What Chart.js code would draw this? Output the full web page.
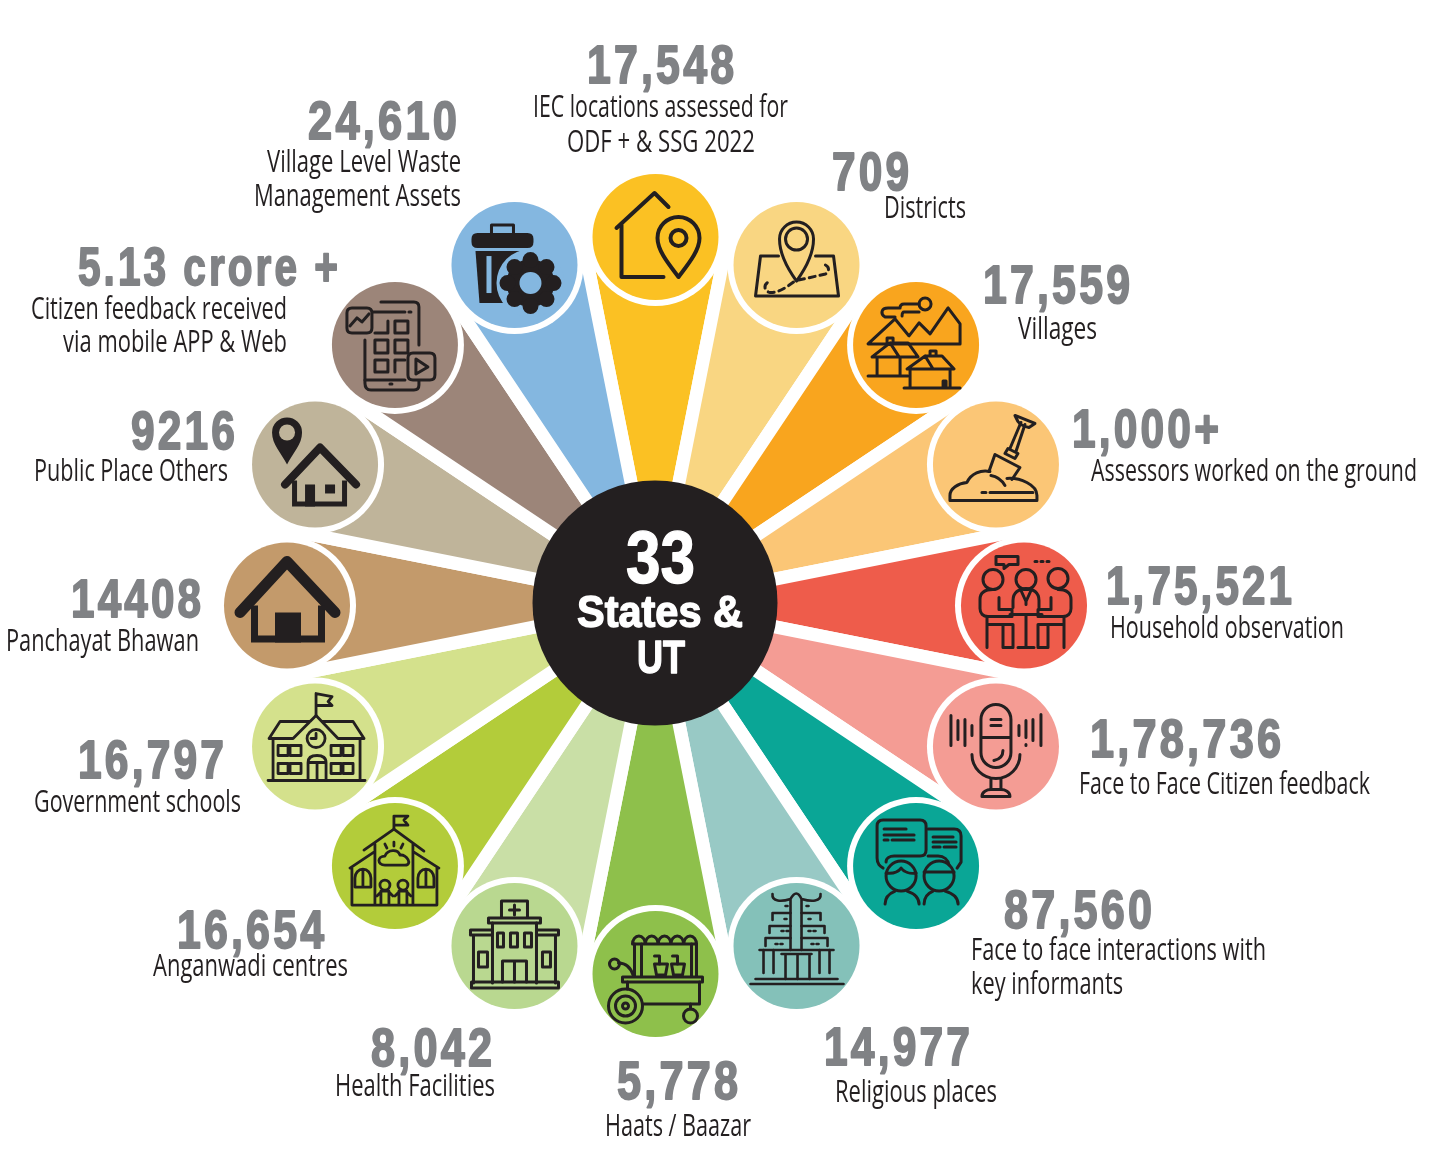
<!DOCTYPE html>
<html>
<head>
<meta charset="utf-8">
<title>33 States & UT</title>
<script src="https://cdn.jsdelivr.net/npm/chart.js@4/dist/chart.umd.min.js"></script>
<style>
  html, body { margin: 0; padding: 0; background: #fff; }
  canvas { display: block; }
</style>
</head>
<body>
<canvas id="petals" width="1448" height="1174"></canvas>
<script>
// chart content, clockwise from the top petal
const categories = ["IEC locations", "Districts", "Villages", "Assessors", "Household observation",
  "Citizen feedback", "Key informants", "Religious places", "Haats / Baazar", "Health Facilities",
  "Anganwadi centres", "Government schools", "Panchayat Bhawan", "Public Place Others",
  "Mobile feedback", "Waste Management Assets"];
const valueLabels = ["17,548", "709", "17,559", "1,000+", "1,75,521", "1,78,736", "87,560", "14,977",
  "5,778", "8,042", "16,654", "16,797", "14408", "9216", "5.13 crore +", "24,610"];
const captions = [
  ["IEC locations assessed for", "ODF + & SSG 2022"],
  ["Districts"],
  ["Villages"],
  ["Assessors worked on the ground"],
  ["Household observation"],
  ["Face to Face Citizen feedback"],
  ["Face to face interactions with", "key informants"],
  ["Religious places"],
  ["Haats / Baazar"],
  ["Health Facilities"],
  ["Anganwadi centres"],
  ["Government schools"],
  ["Panchayat Bhawan"],
  ["Public Place Others"],
  ["Citizen feedback received", "via mobile APP & Web"],
  ["Village Level Waste", "Management Assets"]
];
// every petal is the same size in the picture
const petalShares = [1, 1, 1, 1, 1, 1, 1, 1, 1, 1, 1, 1, 1, 1, 1, 1];
const petalColors = ["#FBC123", "#F9D682", "#F9A51E", "#FBC676", "#EE5C4B", "#F49C94", "#0AA696", "#98C9C5",
  "#8EC04B", "#C9DFA6", "#B3CC3A", "#D4E18C", "#C39A6B", "#BFB49A", "#9C8579", "#84B7E0"];
const discColors = ["#FBC123", "#F9D682", "#F9A51E", "#FBC676", "#EE5C4B", "#F49C94", "#0AA696", "#84C1B9",
  "#8EC04B", "#B9D890", "#B3CC3A", "#D4E18C", "#C39A6B", "#BFB49A", "#9C8579", "#84B7E0"];
const hubLines = ["33", "States &", "UT"];

// text layout: [left, right, baseline]
const valueBoxes = [[587, 734, 83], [832, 909, 190], [983, 1130, 303], [1072, 1219, 447], [1106, 1292, 604],
  [1090, 1281, 757], [1004, 1152, 928], [824, 970, 1065], [617, 738, 1099], [371, 492, 1066], [177, 324, 948],
  [78, 224, 778], [71, 201, 617], [131, 235, 449], [78, 338, 285], [308, 457, 139]];
const captionBoxes = [
  [[533, 788, 117], [567, 755, 152]],
  [[884, 966, 218]],
  [[1018, 1097, 339]],
  [[1091, 1417, 481]],
  [[1110, 1344, 638]],
  [[1079, 1370, 794]],
  [[971, 1266, 960], [971, 1123, 994]],
  [[835, 997, 1102]],
  [[605, 751, 1136]],
  [[335, 495, 1096]],
  [[153, 348, 976]],
  [[34, 241, 812]],
  [[6, 199, 651]],
  [[34, 228, 481]],
  [[31, 287, 319], [63, 287, 352]],
  [[267, 461, 172], [254, 461, 206]]
];
const hubBoxes = [[626, 695, 583, 74], [577, 743, 627, 44], [637, 685, 673, 46]];

const INK = "#231F20";
const DISC_DISTANCE = 368.5;
const DISC_OFFSET_Y = 2.5;

function circ(x, y, r) {
  return "M" + (x + r) + " " + y + "A" + r + " " + r + " 0 1 1 " + (x - r) + " " + y +
    "A" + r + " " + r + " 0 1 1 " + (x + r) + " " + y + "Z";
}
function box(x, y, w, h) {
  return "M" + x + " " + y + "h" + w + "v" + h + "h" + (-w) + "Z";
}

// icon drawings, relative to the disc centre. F = fill, B = fill in disc colour, D = dashed
const iconWidths = [4, 3, 3, 3, 3, 3, 3, 2.6, 3, 3, 2.8, 2.8, 11, 8, 3, 3];
const iconPaths = [
  ["M-34-12V40H8M-39-9L-1-44L13-30", "M23 40C14 28 2 14 2 1A21 21 0 0 1 44 1C44 14 32 28 23 40Z", circ(23, 1, 8)],
  ["M-18-9H-36L-41 31H42L37-9H19", "M0 16C-8 5-17-10-17-26A17 17 0 0 1 17-26C17-10 8 5 0 16Z", circ(0, -26, 11),
    "D M2 15L29 9C34 6 33-1 24-1", "D M-3 17C-12 24-22 29-28 27C-34 24-32 17-25 16"],
  ["M-21-26L-48-1H44V-21L32-37L14-11L3-22L-7-9L-21-26", circ(9, -41, 6),
    "M3-41H-12Q-16-41-16-37H-28C-35-37-36-31-31-28H-21M3-33H-12Q-14-33-14-29",
    "M-44 12L-26-2H-8L2 12H-44M-26-2L-17 12M-39 12V31M-16 12V31M-48 31H-8M-29-2V-7H-23V-2",
    "M-9 24L9 11H26L38 24H-9M9 11L17 24M-6 24V43M34 24V43M-12 43H44M14 11V6H20V11M27 43V36H30V43"],
  ["M11 14C24 13 41 20 41 31V36H-46V31C-46 24-38 19-29 18C-25 9-15 5-6 7", "M-14 28H-10M-6 28H37M-5 11C2 12 6 16 9 21",
    "M-7 7L-1-10L24 3L16 15", "M9-11L19-6L22-11L12-16Z", "M14-16L25-42M20-13L29-40", "M19-49L39-41L33-37C28-38 24-40 22-43Z"],
  [circ(-31, -26, 10), circ(2, -26, 10), circ(34, -27, 10),
    "M-31-16C-40-16-44-12-44-6V3C-44 8-41 11-36 11H-12V4H-25V-8",
    "M-37 11V42M-37 19H-11V42H-21V19",
    "M-11 2V-5C-11-13-5-17 2-17C9-17 15-13 15-5V2", "M-3-15L2-4L7-15M2-4V-1", "M-14 9H18M2 9V42M-6 42H10",
    "M34-16C44-16 47-12 47-6V3C47 8 44 11 39 11H14V4H27V-8", "M40 11V42M40 19H14V42H24V19",
    "M-28-49H-6V-41H-15L-20-37V-41H-28Z", "M11-44H13M17-44H19M23-44H25"],
  ["M-15-9V-27A15 15 0 0 1 15-27V6A15 15 0 0 1-15 6V-9H15", "M-24 8A24 24 0 0 0 24 8", "M-5 32V43M5 32V43",
    "M-14 50C-14 45-9 43-5 43H5C9 43 14 45 14 50Z", "M-5-27H5M-5-21H5", "M-2 14C3 13 7 10 7 4",
    "M-45-31V-1M-38-26V-7M-31-27V-1M-24-21V-11M23-21V-11M30-26V-9M37-27V-6M45-32V-1M30-2V-1"],
  ["M-33 2C-36 0-39-2-39-8V-40Q-39-46-33-46H4Q10-46 10-40V-16Q10-10 4-10H-22C-26-10-30-8-30-4",
    "M12-37H38Q45-37 45-30V-4L41 2M12-10H22C28-10 32-6 33-1",
    "M-32-37H-10M-32-31H-2M-32-26H-28M-24-26H-2M17-29H37M17-24H40M17-19H24M28-19H40",
    circ(-15, 10, 15), "M-30 7C-22 8-18 6-15 2C-12 6-6 8 0 7", circ(23, 10, 15), "M8 6H38",
    "M-31 38C-31 30-26 27-21 25M3 38C3 30-3 27-9 25M8 38C8 30 12 27 17 25M42 38C42 30 36 27 29 25"],
  ["M-46 38H47M-41 33H41", "M-33 4V27M-23 4V27M23 4V27M33 4V27", "M-37 4H37",
    "M-31 0V-8H-6M5-8H31V0M-27-13V-20H-6M5-20H28V-13M-24-26V-33H-6M5-33H24V-26",
    "M-6-47V4M5-47V4M-6-47Q0-58 5-47M-24-52C-25-44-15-44-6-47M24-52C25-44 15-44 5-47",
    "M-15 8H15M-11 8V33M13 8V33M1 8V33",
    "M-21-2H-19M-16-2H-14M15-2H17M20-2H22M-15-15H-13M-10-15H-8M12-15H14M17-15H19M-12-27H-10M12-27H14M-11-40H-9M10-40H12"],
  ["M-23-30A6.4 8 0 0 1-10.2-30A6.4 8 0 0 1 2.6-30A6.4 8 0 0 1 15.4-30A6.4 8 0 0 1 28.2-30A6.4 8 0 0 1 41-30H-23",
    "M-21-30V2M-14-30V2M36-30V2M41-30V2", "M-33 3H47V8H-33Z", "M-28 8V15M44 8V30H-12",
    circ(-30, 32, 17), circ(-30, 32, 10), circ(-30, 32, 3), circ(35, 42, 7), "M35 30V35",
    "M-1-10H12L10 1H1ZM16-10H29L27 1H18Z", "M4-10V-18H-1M22-10V-18H17",
    "M-22 2C-25-8-30-11-37-11", circ(-41, -10, 5)],
  ["M-13-29V-45H13V-29", "M-5-36H5M0-41V-31", "M-26-28H26V-23H-26Z", "M-22-23V37M22-23V37",
    box(-17, -13, 6, 14), box(-4, -13, 7, 14), box(10, -13, 7, 14), "M-12 36V15H12V36M0 15V36",
    "M-44-16H-22V-11H-44ZM-41-11V37M22-16H44V-11H22ZM41-11V37",
    box(-36, 6, 9, 15), box(28, 6, 8, 15), box(-43, 36, 87, 6)],
  ["M-1-37V-50H13L9-46L13-41H-1", "M-31-16L-1-37L29-15M-20-22V39M18-22V39M-45 2L-21-14M44 2L19-14M-43 2V39H42V2",
    "M-40 21V12A8 9 0 0 1-24 12V21ZM-32 3V21", "M23 21V12A8 9 0 0 1 39 12V21ZM31 3V21",
    "M-10-1C-18-1-18-10-10-10C-7-17 3-17 5-11C12-12 18-1 10-1Z", "M-10-22L-8-18M-1-24V-20M8-22L6-18",
    circ(-10, 19, 5), circ(8, 19, 5), "M-14 38V25H-6V38M-18 30L-14 26M-2 30L-6 26M4 38V25H12V38M0 30L4 26M16 30L12 26"],
  ["M1-31V-53L17-50L13-45L17-41L1-41", "M-46-8L-35-25H-5M7-25H38L49-8M-46-8H-22L1-31L23-8H49M-42-8V34M45-8V34M-47 34H50",
    circ(1, -8, 9), "M1-13V-8H-4", "M-7 34V16C-7 11-4 9 2 9C8 9 11 11 11 16V34M2 16V34M-7 16H11",
    box(-37, -1, 10, 10), box(-25, -1, 11, 10), box(-37, 17, 10, 10), box(-25, 17, 11, 10),
    box(16, -1, 10, 10), box(28, -1, 10, 10), box(16, 17, 10, 10), box(28, 17, 10, 10)],
  ["M-47 7L0-44L48 7", "F M-36 0H-29V30H31V0H38V37H-36Z", "F " + box(-12, 7, 26, 30)],
  ["M-30 20L5-17L41 20", "F M-23 16H-18V37H27V16H32V42H-23Z", "F " + box(-10, 20, 10, 22), "F " + box(10, 20, 10, 9),
    "F M-28 0C-34-12-43-20-43-32A15 15 0 0 1-13-32C-13-20-22-12-28 0Z", "B " + circ(-28, -32, 8)],
  ["M-14-43H19Q24-43 24-38V0", "M-30-5V38Q-30 45-24 45H19Q24 45 24 40V36", "M-30 35H10", "M-22-33H10", "M14-33H16", "M-5 39H-3",
    "M-43-37H-28Q-23-37-23-32V-17Q-23-12-28-12H-43Q-48-12-48-17V-32Q-48-37-43-37Z", "M-45-19L-38-27L-33-23L-26-31",
    box(0, -24, 13, 12), box(-20, -5, 13, 13), box(0, -5, 13, 13), box(-20, 15, 13, 12), "M-20-12H-7V-24", "M0 27V15H10",
    "M18 8H35Q40 8 40 13V30Q40 35 35 35H18Q13 35 13 30V13Q13 8 18 8Z", "M21 14L33 22L21 29Z"],
  ["F M-43-26Q-43-32-37-32H13Q19-32 19-26V-23Q19-17 13-17H-37Q-43-17-43-23Z", "M-23-32V-40H-1V-32",
    "F M-39-14H5L-2 38H-35Z", "B " + box(-28, -9, 5, 37), "B " + circ(16, 18, 34), "F " + circ(16, 18, 24),
    "F " + circ(39, 18, 8), "F " + circ(32, 34, 8), "F " + circ(16, 41, 8), "F " + circ(0, 34, 8),
    "F " + circ(-7, 18, 8), "F " + circ(0, 2, 8), "F " + circ(16, -5, 8), "F " + circ(32, 2, 8),
    "B " + circ(16, 18, 11)]
];

function fitText(ctx, text, left, right, baseline, font, heavy, spacing) {
  const gap = spacing || 0;
  ctx.save();
  ctx.font = font;
  ctx.letterSpacing = gap + "px";
  // the last letter's spacing is not part of the visible width
  const natural = ctx.measureText(text).width - gap;
  ctx.translate(left, baseline);
  ctx.scale((right - left) / natural, 1);
  ctx.textAlign = "left";
  ctx.textBaseline = "alphabetic";
  ctx.fillText(text, 0, 0);
  if (heavy) {
    ctx.lineWidth = heavy;
    ctx.lineJoin = "round";
    ctx.strokeStyle = ctx.fillStyle;
    ctx.strokeText(text, 0, 0);
  }
  ctx.restore();
}

function drawIcon(ctx, index, color) {
  ctx.lineWidth = iconWidths[index];
  ctx.lineCap = "round";
  ctx.lineJoin = "round";
  ctx.strokeStyle = INK;
  iconPaths[index].forEach(function (item) {
    const kind = item.slice(0, 2);
    if (kind === "F " || kind === "B ") {
      ctx.fillStyle = kind === "F " ? INK : color;
      ctx.fill(new Path2D(item.slice(2)));
    } else if (kind === "D ") {
      ctx.setLineDash([6, 5]);
      ctx.stroke(new Path2D(item.slice(2)));
      ctx.setLineDash([]);
    } else {
      ctx.stroke(new Path2D(item));
    }
  });
}

const decorations = {
  id: "decorations",
  afterDatasetsDraw: function (chart) {
    const ctx = chart.ctx;
    const arcs = chart.getDatasetMeta(0).data;
    const cx = arcs[0].x;
    const cy = arcs[0].y;

    arcs.forEach(function (arc, i) {
      const mid = (arc.startAngle + arc.endAngle) / 2;
      const x = cx + 0.5 + Math.cos(mid) * DISC_DISTANCE;
      const y = cy + DISC_OFFSET_Y + Math.sin(mid) * DISC_DISTANCE;
      ctx.save();
      ctx.fillStyle = "#fff";
      ctx.beginPath();
      ctx.arc(x, y, 69, 0, Math.PI * 2);
      ctx.fill();
      ctx.fillStyle = discColors[i];
      ctx.beginPath();
      ctx.arc(x, y, 63, 0, Math.PI * 2);
      ctx.fill();
      ctx.translate(x, y);
      drawIcon(ctx, i, discColors[i]);
      ctx.restore();
    });

    // centre hub
    ctx.save();
    ctx.fillStyle = INK;
    ctx.beginPath();
    ctx.arc(cx, cy, 122.5, 0, Math.PI * 2);
    ctx.fill();
    ctx.fillStyle = "#fff";
    hubLines.forEach(function (line, i) {
      const b = hubBoxes[i];
      fitText(ctx, line, b[0], b[1], b[2], "bold " + b[3] + "px 'Liberation Sans'", 1.4);
    });
    ctx.restore();

    // values and captions
    ctx.save();
    ctx.fillStyle = "#808285";
    valueLabels.forEach(function (label, i) {
      const b = valueBoxes[i];
      fitText(ctx, label, b[0], b[1], b[2], "bold 54px 'Liberation Sans'", 1.8, 4);
    });
    ctx.fillStyle = INK;
    captions.forEach(function (lines, i) {
      lines.forEach(function (line, j) {
        const b = captionBoxes[i][j];
        fitText(ctx, line, b[0], b[1], b[2], "31px 'Open Sans'");
      });
    });
    ctx.restore();
  }
};

new Chart(document.getElementById("petals").getContext("2d"), {
  type: "pie",
  data: {
    labels: categories,
    datasets: [{
      data: petalShares,
      backgroundColor: petalColors,
      borderColor: "#fff",
      borderWidth: 13
    }]
  },
  options: {
    responsive: false,
    animation: false,
    events: [],
    rotation: -11.25,
    radius: 367,
    layout: { padding: { top: 32, right: 138 } },
    plugins: { legend: { display: false }, tooltip: { enabled: false } }
  },
  plugins: [decorations]
});
</script>
</body>
</html>
